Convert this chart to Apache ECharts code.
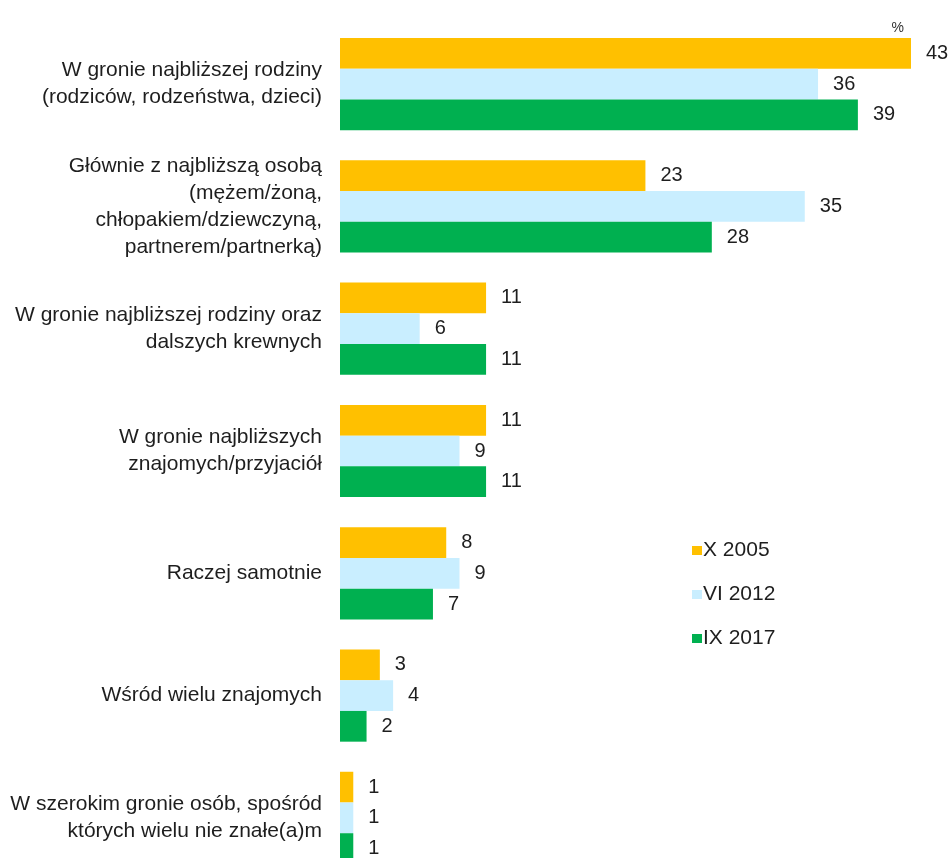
<!DOCTYPE html>
<html>
<head>
<meta charset="utf-8">
<script src="https://cdn.jsdelivr.net/npm/echarts@6/dist/echarts.min.js"></script>
<style>
html, body { margin: 0; padding: 0; background: #fff; }
#chart { width: 951px; height: 858px; }
</style>
</head>
<body>
<div id="chart"></div>
<script>
var categories = [
	'W gronie najbliższej rodziny\n(rodziców, rodzeństwa, dzieci)',
	'Głównie z najbliższą osobą\n(mężem/żoną,\nchłopakiem/dziewczyną,\npartnerem/partnerką)',
	'W gronie najbliższej rodziny oraz\ndalszych krewnych',
	'W gronie najbliższych\nznajomych/przyjaciół',
	'Raczej samotnie',
	'Wśród wielu znajomych',
	'W szerokim gronie osób, spośród\nktórych wielu nie znałe(a)m'
];
var seriesNames = ['X 2005', 'VI 2012', 'IX 2017'];
var x2005 = [43, 23, 11, 11, 8, 3, 1];
var vi2012 = [36, 35, 6, 9, 9, 4, 1];
var ix2017 = [39, 28, 11, 11, 7, 2, 1];
var colors = ['#FFC000', '#C9EEFF', '#00B050'];

var chart = echarts.init(document.getElementById('chart'));

function makeSeries(name, data, color) {
	return {
		name: name,
		type: 'bar',
		data: data,
		barGap: 0,
		barCategoryGap: '24.6%',
		itemStyle: { color: color },
		label: {
			show: true,
			position: 'right',
			distance: 15,
			color: '#1e1e1e',
			fontFamily: 'Liberation Sans, Arial',
			fontSize: 20
		}
	};
}

var option = {
	animation: false,
	textStyle: { fontFamily: 'Liberation Sans, Arial' },
	color: colors,
	title: {
		text: '%',
		right: 42,
		top: 16,
		textStyle: { fontSize: 14, fontWeight: 'normal', color: '#333' }
	},
	legend: {
		orient: 'vertical',
		left: 687,
		top: 535,
		itemWidth: 10,
		itemHeight: 9,
		itemGap: 23,
		icon: 'rect',
		textStyle: { fontSize: 21, color: '#1e1e1e', padding: [0, 0, 0, -4] },
		data: seriesNames
	},
	grid: {
		left: 340,
		right: 40,
		top: 23,
		height: 856,
		outerBoundsMode: 'none',
		containLabel: false
	},
	xAxis: {
		type: 'value',
		min: 0,
		max: 43,
		show: false
	},
	yAxis: {
		type: 'category',
		inverse: true,
		data: categories,
		axisLine: { show: false },
		axisTick: { show: false },
		axisLabel: {
			margin: 18,
			color: '#1e1e1e',
			fontSize: 21,
			lineHeight: 27,
			align: 'right'
		}
	},
	series: [
		makeSeries(seriesNames[0], x2005, colors[0]),
		makeSeries(seriesNames[1], vi2012, colors[1]),
		makeSeries(seriesNames[2], ix2017, colors[2])
	]
};
chart.setOption(option);
</script>
</body>
</html>
